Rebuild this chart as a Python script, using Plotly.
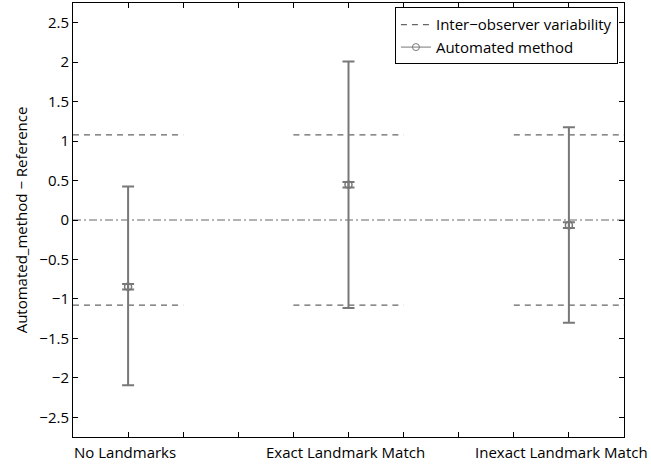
import plotly.graph_objects as go

# ---- data ----
cat_pos = [1, 5, 9]
cat_labels = ["No Landmarks", "Exact Landmark Match", "Inexact Landmark Match"]
means = [-0.845, 0.447, -0.065]
upper = [0.425, 2.01, 1.174]
lower = [-2.093, -1.115, -1.303]
mean_err = [0.035, 0.035, 0.035]
inter_obs = 1.08
band_halfwidth = 1.0
x_ticks = [1, 2, 3, 4, 5, 6, 7, 8, 9]
y_ticks = [-2.5, -2, -1.5, -1, -0.5, 0, 0.5, 1, 1.5, 2, 2.5]
y_tick_text = ["\u22122.5", "\u22122", "\u22121.5", "\u22121", "\u22120.5", "0", "0.5", "1", "1.5", "2", "2.5"]
x_range = [0, 10]
y_range = [-2.75, 2.75]

GRAY = "#787878"
FONT = "Open Sans"
FS = 15

fig = go.Figure()

# dashed inter-observer segments
for sign in (1, -1):
    xs, ys = [], []
    for c in cat_pos:
        xs += [c - band_halfwidth, c + band_halfwidth, None]
        ys += [sign * inter_obs, sign * inter_obs, None]
    fig.add_trace(go.Scatter(
        x=xs, y=ys, mode="lines",
        line=dict(color="#666666", width=1.2, dash="6px,5px"),
        name="Inter\u2212observer variability", showlegend=(sign == 1),
        hoverinfo="skip"))

# zero line dash-dot
fig.add_trace(go.Scatter(
    x=x_range, y=[0, 0], mode="lines",
    line=dict(color="#666666", width=1, dash="8px,3px,2px,3px"),
    showlegend=False, hoverinfo="skip"))

# large error bars
fig.add_trace(go.Scatter(
    x=cat_pos, y=means, mode="markers",
    marker=dict(size=1, color="rgba(0,0,0,0)"),
    error_y=dict(type="data", symmetric=False,
                 array=[u - m for u, m in zip(upper, means)],
                 arrayminus=[m - l for m, l in zip(means, lower)],
                 color=GRAY, thickness=2, width=6),
    showlegend=False))

# mean marker with small error bars
fig.add_trace(go.Scatter(
    x=cat_pos, y=means, mode="markers",
    marker=dict(symbol="circle-open", size=7, color=GRAY, line=dict(width=1.5, color=GRAY)),
    error_y=dict(type="data", array=mean_err, color=GRAY, thickness=2, width=6),
    showlegend=False))

# legend entry for automated method
fig.add_trace(go.Scatter(
    x=[None], y=[None], mode="lines+markers",
    line=dict(color=GRAY, width=1),
    marker=dict(symbol="circle-open", size=7, color=GRAY, line=dict(width=1, color=GRAY)),
    name="Automated method"))

# category labels (as annotations so the last one can stay inside the page)
for i, (pos, lab) in enumerate(zip(cat_pos, cat_labels)):
    fig.add_annotation(x=pos, xref="x", y=0, yref="paper", text=lab,
                       showarrow=False, yanchor="top", xanchor="center",
                       yshift=-3, xshift=(-7 if i == len(cat_pos) - 1 else -3),
                       font=dict(size=FS, family=FONT, color="black"))

fig.update_layout(
    width=651, height=464,
    margin=dict(l=73, r=27, t=3, b=27),
    paper_bgcolor="white", plot_bgcolor="white",
    font=dict(family=FONT, size=FS, color="black"),
    showlegend=True,
    legend=dict(x=0.989, y=0.99, xanchor="right", yanchor="top",
                bordercolor="black", borderwidth=1, bgcolor="white",
                font=dict(size=FS), tracegroupgap=0,
                itemwidth=30),
    xaxis=dict(range=x_range, tickmode="array", tickvals=x_ticks,
               ticktext=["" for t in x_ticks],
               ticks="inside", ticklen=5, tickcolor="black", mirror="ticks",
               showline=True, linecolor="black", linewidth=1, showgrid=False,
               zeroline=False),
    yaxis=dict(range=y_range, tickmode="array", tickvals=y_ticks, ticktext=y_tick_text,
               ticks="inside", ticklen=5, tickcolor="black", mirror="ticks",
               showline=True, linecolor="black", linewidth=1, showgrid=False,
               zeroline=False,
               title=dict(text="Automated_method \u2212 Reference", standoff=8,
                          font=dict(size=FS))),
)

fig.write_html("out.html")
